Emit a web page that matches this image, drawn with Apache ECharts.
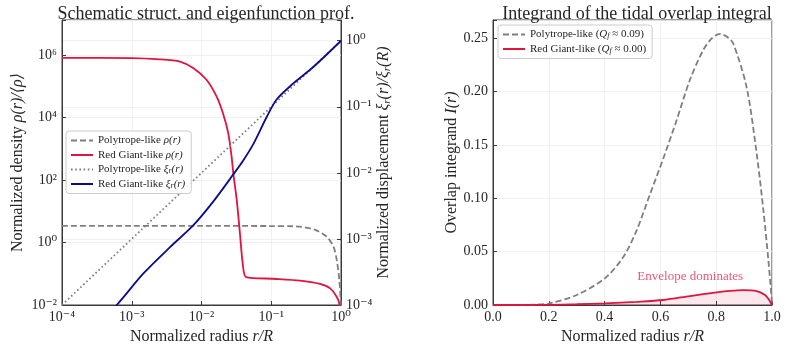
<!DOCTYPE html>
<html lang="en">
<head>
  <meta charset="UTF-8">
  <title>Tidal overlap</title>
  <style>
    html, body { margin: 0; padding: 0; background: #fff; }
    #chart { width: 793px; height: 358px; }
  </style>
  <script src="https://cdn.jsdelivr.net/npm/echarts@6/dist/echarts.min.js"></script>
</head>
<body>
  <div id="chart"></div>
  <script>
    // ---- left panel: structure + eigenfunction (log-log) ----
    const polyRhoR = [1e-4, 1e-3, 1e-2, 0.1, 0.2, 0.258, 0.35, 0.45, 0.62, 0.78, 0.87, 0.946, 0.99, 0.999];
    const polyRho  = [3.4, 3.4, 3.4, 3.35, 3.3, 3.2, 2.85, 2.4, 1.55, 0.74, 0.27, 0.063, 0.012, 0.002];

    const rgRhoR = [1e-4, 1e-3, 2.5e-3, 4.9e-3, 7.6e-3, 1.18e-2, 1.65e-2, 2.03e-2, 2.42e-2, 2.7e-2, 2.86e-2, 3.2e-2, 3.56e-2, 3.9e-2, 4.35e-2, 0.107, 0.258, 0.5, 0.7, 0.87, 0.946, 0.99, 0.999];
    const rgRho  = [8e5, 7.9e5, 7.2e5, 6.1e5, 3.8e5, 1.6e5, 4.6e4, 1.35e4, 3.1e3, 560, 160, 23, 1.9, 0.21, 0.078, 0.069, 0.06, 0.047, 0.034, 0.018, 0.011, 0.004, 0.001];

    const polyXiR = [1e-4, 1e-3, 1e-2, 0.1, 1];
    const polyXi  = [1e-4, 1e-3, 1e-2, 0.1, 1];

    const rgXiR = [1e-4, 6.1e-4, 1.47e-3, 3.53e-3, 7.6e-3, 1.48e-2, 2.86e-2, 3.9e-2, 5.5e-2, 8.6e-2, 0.12, 0.207, 0.4, 1];
    const rgXi  = [1.3e-5, 1e-4, 3.0e-4, 7.5e-4, 1.6e-3, 3.7e-3, 9.5e-3, 1.5e-2, 2.7e-2, 7.0e-2, 0.13, 0.226, 0.40, 1];

    // ---- right panel: overlap integrand ----
    const intR     = [0, 0.1, 0.15, 0.204, 0.3, 0.401, 0.467, 0.515, 0.563, 0.61, 0.658, 0.706, 0.754, 0.785, 0.814, 0.84, 0.861, 0.909, 0.945, 0.969, 0.987, 0.999, 1.0];
    const polyInt  = [0, 0.0001, 0.0004, 0.0016, 0.0094, 0.025, 0.045, 0.07, 0.104, 0.137, 0.173, 0.211, 0.239, 0.25, 0.254, 0.251, 0.245, 0.204, 0.142, 0.089, 0.042, 0.005, 0];
    const rgIntR   = [0, 0.2, 0.3, 0.401, 0.515, 0.61, 0.706, 0.802, 0.85, 0.897, 0.945, 0.975, 0.99, 1.0];
    const rgInt    = [0, 0.0002, 0.0007, 0.0016, 0.003, 0.0047, 0.0084, 0.0119, 0.0133, 0.014, 0.013, 0.0094, 0.0047, 0];

    const noteText = 'Envelope dominates';
    const notePos = [0.707, 0.0265];

    const FONT = "'Liberation Serif', 'DejaVu Serif', serif";
    const INK = '#262626';
    const GRAY = '#7f7f7f';
    const CRIMSON = '#e0143c';
    const NAVY = '#0c0c8a';

    const pairs = (xs, ys) => xs.map((x, i) => [x, ys[i]]);

    const SUP = { '-': '⁻', '0': '⁰', '1': '¹', '2': '²', '3': '³', '4': '⁴', '5': '⁵', '6': '⁶', '7': '⁷', '8': '⁸', '9': '⁹' };
    function pow10Label(v, evenOnly) {
      const l = Math.log10(v);
      const e = Math.round(l);
      if (Math.abs(l - e) > 1e-6) return '';
      if (evenOnly && e % 2 !== 0) return '';
      return '10' + String(e).split('').map(c => SUP[c]).join('');
    }

    const axisLine = { show: true, lineStyle: { color: '#3a3a3a', width: 1 } };
    const axisTick = { show: true, inside: true, length: 4, lineStyle: { color: '#3a3a3a' } };
    const splitLine = { show: true, lineStyle: { color: '#ececec', width: 0.8 } };
    const tickFont = { fontFamily: FONT, fontSize: 14, color: INK };
    const nameFont = {
      fontFamily: FONT, fontSize: 16, color: INK,
      rich: { it: { fontFamily: FONT, fontSize: 16, fontStyle: 'italic', color: INK } }
    };

    const legendText = {
      'Polytrope-like ρ(r)': 'Polytrope-like {it|ρ(r)}',
      'Red Giant-like ρ(r)': 'Red Giant-like {it|ρ(r)}',
      'Polytrope-like ξ(r)': 'Polytrope-like {it|ξ}{sub|r}{it|(r)}',
      'Red Giant-like ξ(r)': 'Red Giant-like {it|ξ}{sub|r}{it|(r)}',
      'Polytrope-like Q': 'Polytrope-like ({it|Q}{sub|f} ≈ 0.09)',
      'Red Giant-like Q': 'Red Giant-like ({it|Q}{sub|f} ≈ 0.00)'
    };
    const legendStyle = {
      fontFamily: FONT, fontSize: 11, color: INK,
      rich: {
        it: { fontFamily: FONT, fontSize: 11, fontStyle: 'italic', color: INK },
        sub: { fontFamily: FONT, fontSize: 8, fontStyle: 'italic', color: INK, verticalAlign: 'bottom' }
      }
    };
    const legendBox = {
      orient: 'vertical', itemWidth: 22, itemHeight: 11, itemGap: 3.5,
      backgroundColor: 'rgba(255,255,255,0.85)', borderColor: '#cccccc', borderWidth: 1,
      borderRadius: 3, padding: [4, 6, 4, 4],
      itemStyle: { opacity: 0 },
      textStyle: legendStyle, formatter: n => legendText[n]
    };

    const chart = echarts.init(document.getElementById('chart'), null, { renderer: 'canvas' });

    chart.setOption({
      animation: false,
      backgroundColor: '#ffffff',
      title: [
        { text: 'Schematic struct. and eigenfunction prof.', left: 201, top: 0, textAlign: 'center',
          textStyle: { fontFamily: FONT, fontSize: 18, fontWeight: 'normal', color: INK } },
        { text: 'Integrand of the tidal overlap integral', left: 632, top: 0, textAlign: 'center',
          textStyle: { fontFamily: FONT, fontSize: 18, fontWeight: 'normal', color: INK } }
      ],
      grid: [
        { left: 62, right: 452, top: 20, bottom: 53, show: true, borderColor: '#3a3a3a', borderWidth: 1, backgroundColor: 'transparent' },
        { left: 493, right: 21, top: 20, bottom: 53, show: true, borderColor: '#3a3a3a', borderWidth: 1, backgroundColor: 'transparent' }
      ],
      legend: [
        Object.assign({}, legendBox, {
          left: 66, top: 131,
          data: ['Polytrope-like ρ(r)', 'Red Giant-like ρ(r)', 'Polytrope-like ξ(r)', 'Red Giant-like ξ(r)']
        }),
        Object.assign({}, legendBox, {
          left: 498, top: 25,
          data: ['Polytrope-like Q', 'Red Giant-like Q']
        })
      ],
      xAxis: [
        { type: 'log', gridIndex: 0, min: 1e-4, max: 1, logBase: 10,
          name: 'Normalized radius {it|r/R}', nameLocation: 'middle', nameGap: 22, nameTextStyle: nameFont,
          axisLine, axisTick, splitLine,
          axisLabel: Object.assign({ margin: 5, formatter: v => pow10Label(v, false) }, tickFont) },
        { type: 'value', gridIndex: 1, min: 0, max: 1, interval: 0.2,
          name: 'Normalized radius {it|r/R}', nameLocation: 'middle', nameGap: 22, nameTextStyle: nameFont,
          axisLine, axisTick, splitLine,
          axisLabel: Object.assign({ margin: 5, formatter: v => v.toFixed(1) }, tickFont) }
      ],
      yAxis: [
        { type: 'log', gridIndex: 0, min: 0.01, max: 1.3e7, interval: 2, logBase: 10, position: 'left',
          name: 'Normalized density {it|ρ(r)/⟨ρ⟩}', nameLocation: 'middle', nameGap: 36, nameRotate: 90, nameTextStyle: nameFont,
          axisLine, axisTick, splitLine,
          axisLabel: Object.assign({ margin: 5, formatter: v => pow10Label(v, true) }, tickFont) },
        { type: 'log', gridIndex: 0, min: 1e-4, max: 2.06, logBase: 10, position: 'right',
          name: 'Normalized displacement {it|ξ}{sub|r}{it|(r)/ξ}{sub|r}{it|(R)}', nameLocation: 'middle', nameGap: 34, nameRotate: 90,
          nameTextStyle: Object.assign({}, nameFont, { rich: {
            it: { fontFamily: FONT, fontSize: 16, fontStyle: 'italic', color: INK },
            sub: { fontFamily: FONT, fontSize: 11, fontStyle: 'italic', color: INK, verticalAlign: 'bottom' } } }),
          axisLine, axisTick, splitLine,
          axisLabel: Object.assign({ margin: 5, formatter: v => pow10Label(v, false) }, tickFont) },
        { type: 'value', gridIndex: 1, min: 0, max: 0.267, interval: 0.05,
          name: 'Overlap integrand {it|I(r)}', nameLocation: 'middle', nameGap: 33, nameRotate: 90, nameTextStyle: nameFont,
          axisLine, axisTick, splitLine,
          axisLabel: Object.assign({ margin: 5, formatter: v => (Math.abs(v / 0.05 - Math.round(v / 0.05)) < 1e-6 ? v.toFixed(2) : '') }, tickFont) }
      ],
      series: [
        { name: 'Polytrope-like ρ(r)', type: 'line', xAxisIndex: 0, yAxisIndex: 0, symbol: 'none', smooth: 0.3,
          data: pairs(polyRhoR, polyRho), lineStyle: { color: GRAY, width: 1.8, type: [6, 3] }, itemStyle: { color: GRAY } },
        { name: 'Red Giant-like ρ(r)', type: 'line', xAxisIndex: 0, yAxisIndex: 0, symbol: 'none', smooth: 0.25,
          data: pairs(rgRhoR, rgRho), lineStyle: { color: CRIMSON, width: 1.8 }, itemStyle: { color: CRIMSON } },
        { name: 'Polytrope-like ξ(r)', type: 'line', xAxisIndex: 0, yAxisIndex: 1, symbol: 'none',
          data: pairs(polyXiR, polyXi), lineStyle: { color: GRAY, width: 1.8, type: [1.6, 2.6] }, itemStyle: { color: GRAY } },
        { name: 'Red Giant-like ξ(r)', type: 'line', xAxisIndex: 0, yAxisIndex: 1, symbol: 'none', smooth: 0.3,
          data: pairs(rgXiR, rgXi), lineStyle: { color: NAVY, width: 1.8 }, itemStyle: { color: NAVY } },
        { name: 'Polytrope-like Q', type: 'line', xAxisIndex: 1, yAxisIndex: 2, symbol: 'none', smooth: 0.3,
          data: pairs(intR, polyInt), lineStyle: { color: GRAY, width: 1.8, type: [6, 3] }, itemStyle: { color: GRAY } },
        { name: 'Red Giant-like Q', type: 'line', xAxisIndex: 1, yAxisIndex: 2, symbol: 'none', smooth: 0.3,
          data: pairs(rgIntR, rgInt), lineStyle: { color: CRIMSON, width: 1.8 }, itemStyle: { color: CRIMSON },
          areaStyle: { color: 'rgba(224,20,60,0.14)' },
          markPoint: {
            symbol: 'circle', symbolSize: 0, silent: true,
            data: [{ coord: notePos, value: noteText }],
            label: { show: true, position: 'inside', formatter: noteText, fontFamily: FONT, fontSize: 13, color: 'rgba(224,20,60,0.72)' }
          } }
      ]
    });
  </script>
</body>
</html>
